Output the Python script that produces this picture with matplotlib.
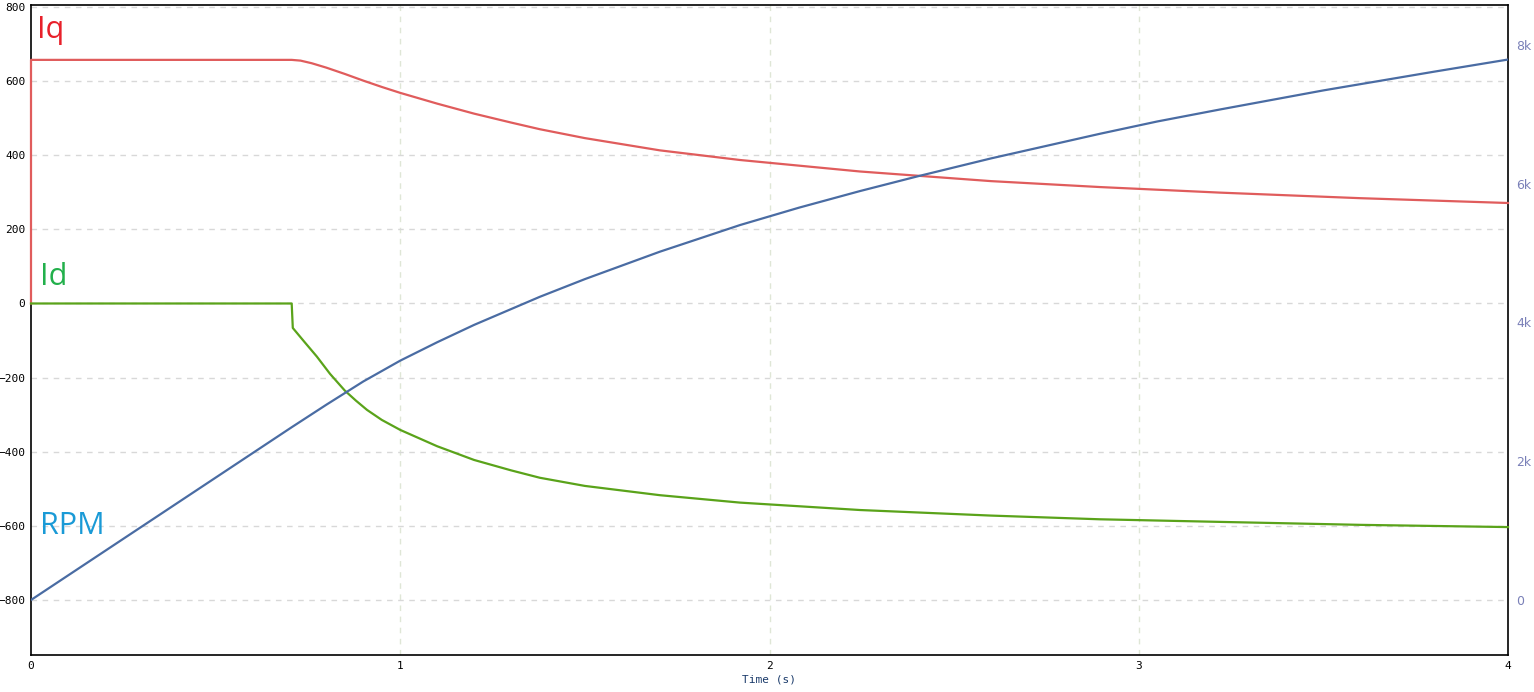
import matplotlib.pyplot as plt

# data
iq_t = [0, 0, 0.706, 0.73, 0.76, 0.8, 0.85, 0.9, 0.95, 1.0, 1.1, 1.2, 1.3, 1.378,
        1.5, 1.703, 1.92, 2.245, 2.6, 2.895, 3.22, 3.6, 4.0]
iq = [0, 657, 657, 655, 648, 636, 619, 601, 584, 568, 539, 512, 488, 470,
      446, 413, 387, 356, 330, 314, 299, 284, 271]

id_t = [0, 0.706, 0.709, 0.74, 0.774, 0.81, 0.85, 0.88, 0.91, 0.95, 1.0, 1.1, 1.2,
        1.3, 1.378, 1.5, 1.703, 1.92, 2.245, 2.6, 2.895, 3.22, 3.6, 4.0]
id_ = [0, 0, -66, -103, -143, -190, -235, -262, -287, -314, -341, -385, -422,
       -450, -470, -492, -517, -537, -557, -572, -582, -589, -597, -603]

rpm_t = [0, 0.706, 0.8, 0.9, 1.0, 1.1, 1.2, 1.378, 1.5, 1.703, 1.92, 2.08, 2.245,
         2.4, 2.6, 2.895, 3.05, 3.22, 3.5, 3.8, 4.0]
rpm = [0, 2490, 2815, 3150, 3450, 3715, 3965, 4370, 4625, 5020, 5404, 5655, 5894,
       6105, 6365, 6720, 6897, 7070, 7345, 7615, 7790]

left_ticks = [-800, -600, -400, -200, 0, 200, 400, 600, 800]
right_ticks = [0, 2000, 4000, 6000, 8000]
right_labels = ['0', '2k', '4k', '6k', '8k']

fig = plt.figure(figsize=(15.34, 6.92), dpi=100)
ax = fig.add_axes([31/1534, 1 - 655/692, (1508 - 31)/1534, 650/692])

ax.plot(iq_t, iq, color='#e05c5c', lw=1.6, clip_on=False, zorder=5)
ax.plot(id_t, id_, color='#5aa31a', lw=1.6, clip_on=False, zorder=5)
ax.set_xlim(0, 4)
ax.set_ylim(-948, 805)
ax.set_yticks(left_ticks)
ax.set_xticks([0, 1, 2, 3, 4])
ax.tick_params(length=0, labelsize=8, pad=4)
for lab in ax.get_yticklabels() + ax.get_xticklabels():
    lab.set_fontfamily('DejaVu Sans Mono')
ax.set_xlabel('Time (s)', fontsize=8, fontfamily='DejaVu Sans Mono', color='#1a3a6a', labelpad=3)

ax.grid(axis='y', color='#d8d8d8', ls=(0, (4, 4)), lw=1)
for xv in [1, 2, 3]:
    ax.axvline(xv, color='#dfe6d6', ls=(0, (4, 4)), lw=1, zorder=0)
for s in ax.spines.values():
    s.set_color('black')
    s.set_linewidth(1.2)

ax2 = ax.twinx()
ax2.plot(rpm_t, rpm, color='#4a6ca3', lw=1.6)
ax2.set_ylim(-793, 8576)
ax2.set_yticks(right_ticks)
ax2.set_yticklabels(right_labels)
ax2.tick_params(length=0, labelsize=9, labelcolor='#7a80b8', pad=6)
# spines come from ax only, so the red step at t=0 shows over the left edge
for s in ax2.spines.values():
    s.set_visible(False)

ax.text(0.004, 0.949, 'Iq', transform=ax.transAxes, color='#e8202a', fontsize=22,
        fontfamily='Open Sans', va='baseline', ha='left')
ax.text(0.006, 0.569, 'Id', transform=ax.transAxes, color='#22b04b', fontsize=22,
        fontfamily='Open Sans', va='baseline', ha='left')
ax.text(0.006, 0.186, 'RPM', transform=ax.transAxes, color='#1a9ad6', fontsize=22,
        fontfamily='Open Sans', va='baseline', ha='left')

fig.savefig('out.png', dpi=100)
